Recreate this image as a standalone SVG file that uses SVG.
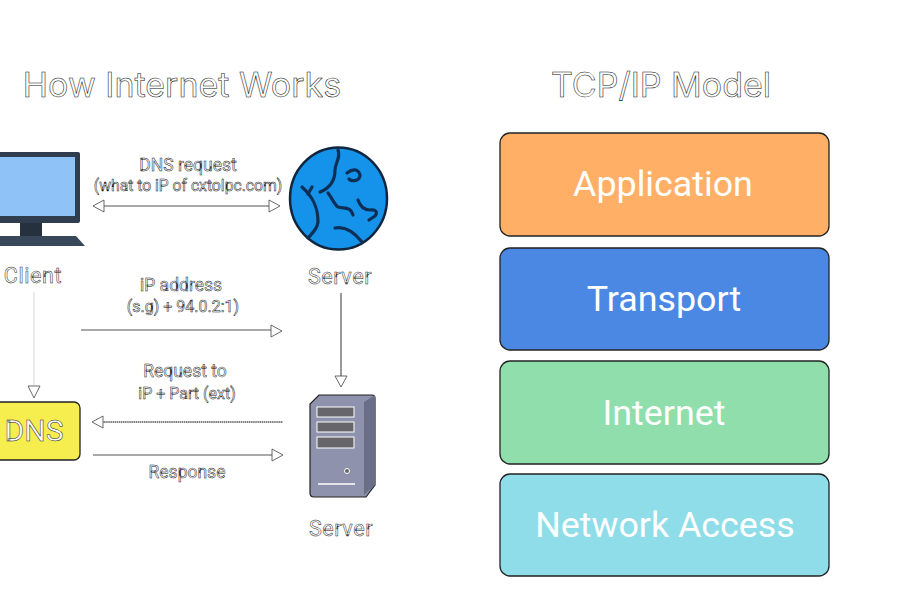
<svg xmlns="http://www.w3.org/2000/svg" width="907" height="605" viewBox="0 0 907 605">
<style>
text{font-family:"Roboto","Liberation Sans",sans-serif;text-anchor:middle}
.t{font-family:"Inter","Liberation Sans",sans-serif;font-size:34px;fill:#fff;stroke:#111;stroke-width:.55}
.l{font-size:21.5px;fill:#fff;stroke:#222;stroke-width:.5;letter-spacing:.6px}
.s{font-size:17.5px;fill:#fff;stroke:#111;stroke-width:.5}
.b{font-size:35.8px;fill:#fff}
.box{stroke:#222;stroke-width:1.3}
.c{fill:none;stroke:#555;stroke-width:1.2}
.a{fill:#fff;stroke:#444;stroke-width:.8}
</style>
<rect width="907" height="605" fill="#fff"/>
<text class="t" x="182" y="97">How Internet Works</text>
<text class="t" x="661" y="97">TCP/IP Model</text>

<g id="client">
<rect x="-20" y="152" width="100" height="71" rx="2" fill="#2f3d4e"/>
<rect x="-20" y="157" width="95" height="59" fill="#8fc3f7"/>
<rect x="20" y="223" width="22" height="14" fill="#25313f"/>
<path d="M-20 236H76L85 246H-20Z" fill="#38475a"/>
<text class="l" x="33" y="283">Client</text>
</g>
<g id="dns">
<rect class="box" x="-20" y="402" width="100" height="58" rx="6" fill="#f6ed4e"/>
<text x="34" y="441" font-size="30" fill="#fff" stroke="#222" stroke-width=".5">DNS</text>
</g>
<g id="globe">
<ellipse cx="338.500" cy="198.500" rx="48.500" ry="51" fill="#1593ea" stroke="#10263f" stroke-width="2.500"/>
<g fill="none" stroke="#0d2f55" stroke-width="3.200" stroke-linecap="round" stroke-linejoin="round">
<path d="M338 150C341 158 335 163 335 170C335 180 330 188 320 192"/>
<path d="M328 193C332 198 334 204 338 207C344 209 350 206 353 215"/>
<path d="M302 187C312 196 318 206 318 222C317 230 312 233 308 238"/>
<path d="M312 187L308 194"/>
<path d="M347 173C352 169 358 168 360 175C360 181 352 182 349 179"/>
<path d="M358 200C360 206 364 210 370 210C376 209 378 212 375 216L369 220"/>
<path d="M335 228C345 226 354 232 362 242"/>
</g>
</g>
<text id="server-label" class="l" x="340" y="284">Server</text>
<g id="server">
<path d="M319 395H372Q375 395 375 398V485L366 497H314Q310 497 310 493V404Z" fill="#8e92ad" stroke="#222" stroke-width="1.2"/>
<path d="M364 402L375 395V485L364 495Z" fill="#6a6e86"/>
<g fill="#66666b" stroke="#fff" stroke-width="1">
<rect x="317" y="407" width="37" height="10"/>
<rect x="317" y="422" width="37" height="10"/>
<rect x="317" y="437" width="37" height="11"/>
</g>
<circle cx="347" cy="471" r="2.500" fill="#666" stroke="#fff"/>
<path d="M318 484H355" stroke="#fff" stroke-width="1.500"/>
<text class="l" x="341" y="536">Server</text>
</g>

<g id="connectors">
<path class="c" d="M100 206H270"/>
<path class="a" d="M93 206L104 200V212ZM280 206L269 200V212Z"/>
<path class="c" d="M81 330H272"/>
<path class="a" d="M282 331L271 325V337Z"/>
<path class="c" d="M34 292V385" style="stroke:#ddd"/>
<path class="a" d="M34 398L28 386H40Z"/>
<path class="c" d="M341 293V377"/>
<path class="a" d="M341 387L335 376H347Z"/>
<path class="c" d="M102 422H283" stroke-dasharray="1.500 .6" style="stroke-width:1.700"/>
<path class="a" d="M92 422L103 416V428Z"/>
<path class="c" d="M93 455H272"/>
<path class="a" d="M283 455L272 449V461Z"/>
</g>
<g id="edge-labels">
<text class="s" x="188" y="171">DNS request</text>
<text class="s" x="188" y="191" style="font-size:15.700px">(what to iP of cxtolpc.com)</text>
<text class="s" x="181" y="291">iP address</text>
<text class="s" x="183" y="312" style="font-size:16px">(s.g) + 94.0.2:1)</text>
<text class="s" x="185" y="377">Request to</text>
<text class="s" x="187" y="399" style="font-size:16px">iP + Part (ext)</text>
<text class="s" x="187" y="478">Response</text>
</g>

<g id="application"><rect class="box" x="500" y="133" width="329" height="103" rx="10" fill="#ffb066"/><text class="b" x="663" y="196">Application</text></g>
<g id="transport"><rect class="box" x="500" y="248" width="329" height="102" rx="10" fill="#4a88e4"/><text class="b" x="664" y="311">Transport</text></g>
<g id="internet"><rect class="box" x="500" y="361" width="329" height="103" rx="10" fill="#8fdeab"/><text class="b" x="664" y="425">Internet</text></g>
<g id="network-access"><rect class="box" x="500" y="474" width="329" height="102" rx="10" fill="#8fdde8"/><text class="b" x="665" y="537">Network Access</text></g>
</svg>
